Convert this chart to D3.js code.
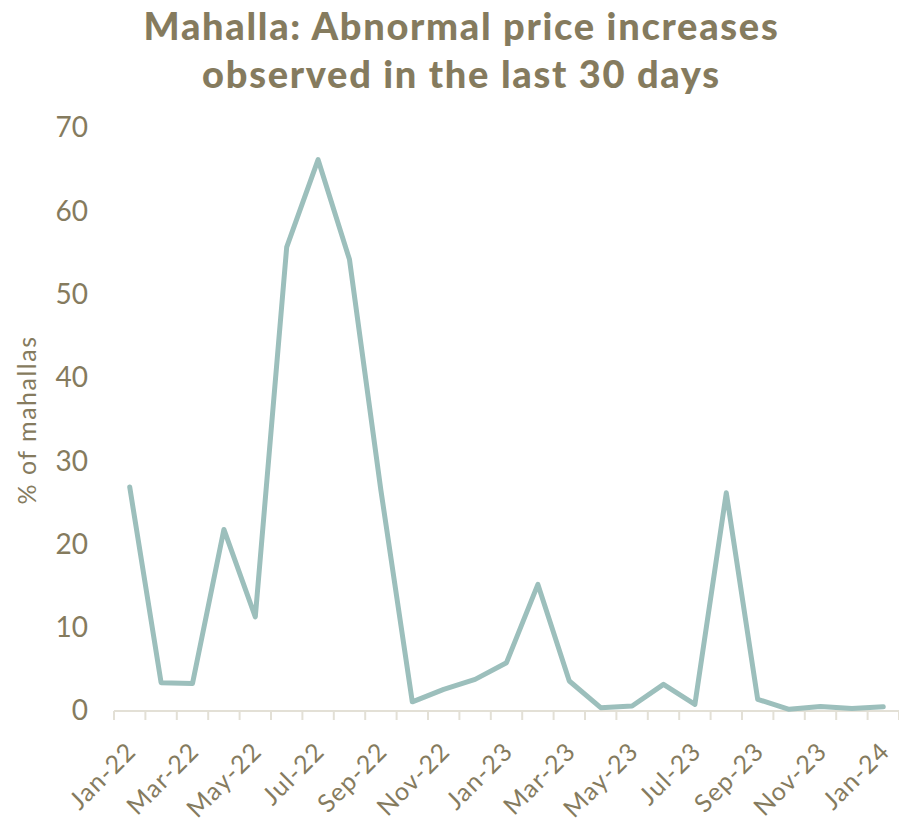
<!DOCTYPE html>
<html>
<head>
<meta charset="utf-8">
<script src="https://cdn.jsdelivr.net/npm/d3@7"></script>
<style>
  html, body { margin: 0; padding: 0; background: #fff; }
  svg { display: block; }
</style>
</head>
<body>
<div id="chart"></div>
<script>
const months = ["Jan-22","Feb-22","Mar-22","Apr-22","May-22","Jun-22","Jul-22","Aug-22","Sep-22","Oct-22","Nov-22","Dec-22",
  "Jan-23","Feb-23","Mar-23","Apr-23","May-23","Jun-23","Jul-23","Aug-23","Sep-23","Oct-23","Nov-23","Dec-23","Jan-24"];
const values = [26.9, 3.4, 3.3, 21.8, 11.3, 55.7, 66.2, 54.2, 26.5, 1.1, 2.6, 3.8,
  5.8, 15.2, 3.6, 0.4, 0.6, 3.2, 0.8, 26.2, 1.4, 0.2, 0.55, 0.3, 0.5];
const yTicks = [0, 10, 20, 30, 40, 50, 60, 70];
const titleLines = ["Mahalla: Abnormal price increases", "observed in the last 30 days"];
const yLabel = "% of mahallas";

const W = 899, H = 822;
const textColor = "#857b5e";
const lineColor = "#9cbfbc";
const axisColor = "#e3e0d6";
const font = "Lato, 'Noto Sans', sans-serif";

const svg = d3.select("#chart").append("svg").attr("width", W).attr("height", H);

const x = d3.scaleBand().domain(months).range([114, 899]).padding(0);
const y = d3.scaleLinear().domain([0, 70]).range([711, 128]);

// title
svg.append("g").selectAll("text").data(titleLines).join("text")
  .attr("x", W / 2 + 12)
  .attr("y", (d, i) => 40 + i * 48)
  .attr("text-anchor", "middle")
  .attr("font-family", font)
  .attr("font-weight", 900)
  .attr("font-size", 38)
  .attr("letter-spacing", 1.7)
  .attr("fill", textColor)
  .text(d => d);

// y axis
const yAxis = svg.append("g").attr("transform", "translate(88,0)")
  .call(d3.axisLeft(y).tickValues(yTicks).tickSize(0).tickPadding(0).tickFormat(d3.format("d")));
yAxis.select(".domain").remove();
yAxis.selectAll("text").attr("font-family", font).attr("font-size", 28).attr("fill", textColor);

svg.append("text")
  .attr("transform", "translate(36,420) rotate(-90)")
  .attr("text-anchor", "middle")
  .attr("font-family", font)
  .attr("font-size", 25)
  .attr("letter-spacing", 1.5)
  .attr("fill", textColor)
  .text(yLabel);

// x axis
const xAxis = svg.append("g").attr("transform", `translate(0,${y(0)})`)
  .call(d3.axisBottom(x).tickValues(months.filter((m, i) => i % 2 === 0)).tickSize(0).tickPadding(0));
xAxis.select(".domain").remove();
xAxis.selectAll("text")
  .attr("font-family", font)
  .attr("font-size", 25)
  .attr("letter-spacing", 1.2)
  .attr("fill", textColor)
  .attr("text-anchor", "end")
  .attr("dy", 0)
  .attr("y", 0)
  .attr("transform", "translate(8,42) rotate(-45)");

svg.append("line")
  .attr("x1", x.range()[0]).attr("x2", x.range()[1])
  .attr("y1", y(0)).attr("y2", y(0))
  .attr("stroke", axisColor).attr("stroke-width", 2);

const bounds = months.map(m => x(m)).concat([x.range()[1]]);
svg.append("g").selectAll("line").data(bounds).join("line")
  .attr("x1", d => d).attr("x2", d => d)
  .attr("y1", y(0)).attr("y2", y(0) + 9)
  .attr("stroke", axisColor).attr("stroke-width", 2);

// line
const line = d3.line()
  .x((d, i) => x(months[i]) + x.bandwidth() / 2)
  .y(d => y(d));
svg.append("path")
  .datum(values)
  .attr("d", line)
  .attr("fill", "none")
  .attr("stroke", lineColor)
  .attr("stroke-width", 5)
  .attr("stroke-linejoin", "round")
  .attr("stroke-linecap", "round");
</script>
</body>
</html>
